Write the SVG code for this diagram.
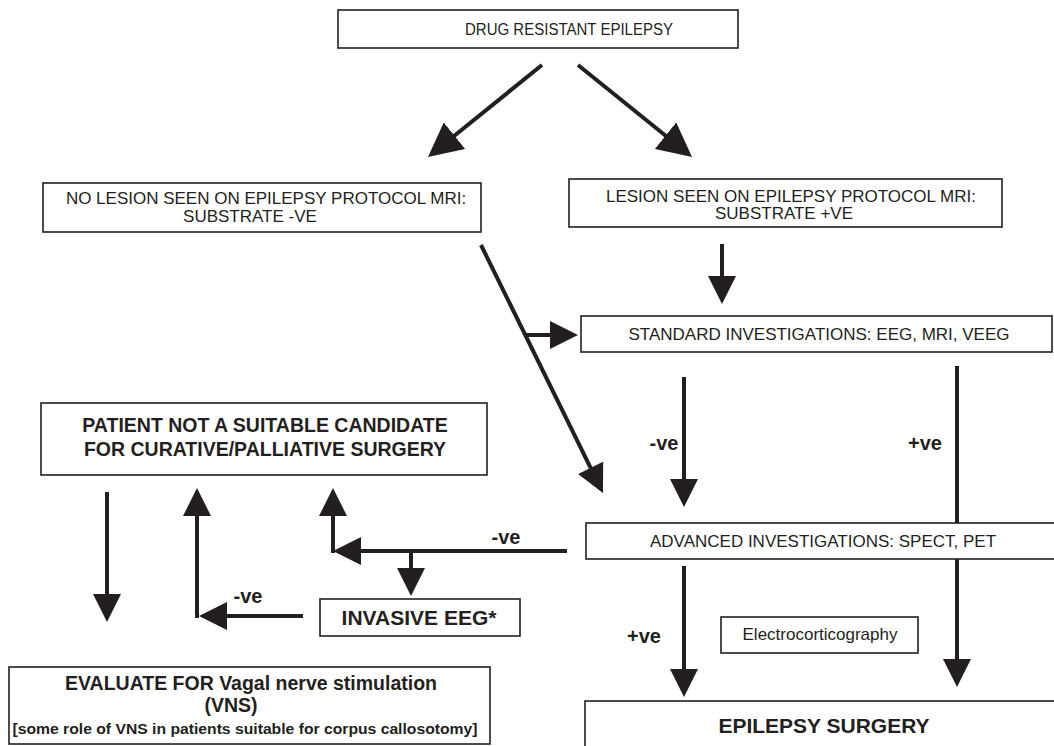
<svg xmlns="http://www.w3.org/2000/svg" width="1054" height="746" viewBox="0 0 1054 746">
<style>
.box{fill:#fff;stroke:#231f20;stroke-width:1.6}
.t{font-family:"Liberation Sans",Arial,sans-serif;fill:#231f20;text-anchor:middle}
.r{font-size:17px}
.b{font-weight:bold}
.lbl{font-size:20px;font-weight:bold}
.c{fill:none;stroke:#231f20;stroke-width:4}
</style>
<defs>
<marker id="ah" markerUnits="userSpaceOnUse" markerWidth="28" markerHeight="28" refX="24" refY="14" orient="auto">
<path d="M0,0 L28,14 L0,28 z" fill="#231f20"/>
</marker>
<marker id="ahb" markerUnits="userSpaceOnUse" markerWidth="34" markerHeight="34" refX="30" refY="17" orient="auto">
<path d="M0,0 L34,17 L0,34 z" fill="#231f20"/>
</marker>
</defs>
<rect width="1054" height="746" fill="#fff"/>
<g id="connectors">
<line class="c" x1="542" y1="65" x2="431.1" y2="154.5" marker-end="url(#ahb)"/>
<line class="c" x1="578" y1="65" x2="688.9" y2="154.5" marker-end="url(#ahb)"/>
<line class="c" x1="722" y1="244" x2="722" y2="300" marker-end="url(#ah)"/>
<line class="c" x1="481" y1="245" x2="601.2" y2="489.4" marker-end="url(#ah)"/>
<line class="c" x1="525" y1="335" x2="574" y2="335" marker-end="url(#ah)"/>
<line class="c" x1="684" y1="377" x2="684" y2="503" marker-end="url(#ah)"/>
<line class="c" x1="957" y1="366" x2="957" y2="683" marker-end="url(#ah)"/>
<line class="c" x1="684" y1="566" x2="684" y2="693" marker-end="url(#ah)"/>
<line class="c" x1="567" y1="551" x2="337" y2="551" marker-end="url(#ah)"/>
<line class="c" x1="333" y1="553" x2="333" y2="492" marker-end="url(#ah)"/>
<line class="c" x1="411" y1="551" x2="411" y2="592" marker-end="url(#ah)"/>
<line class="c" x1="303" y1="616" x2="203" y2="616" marker-end="url(#ah)"/>
<line class="c" x1="197" y1="618" x2="197" y2="492" marker-end="url(#ah)"/>
<line class="c" x1="107" y1="492" x2="107" y2="618" marker-end="url(#ah)"/>
<text class="t lbl" x="506" y="544">-ve</text>
<text class="t lbl" x="248" y="603">-ve</text>
<text class="t lbl" x="664" y="450">-ve</text>
<text class="t lbl" x="925" y="450">+ve</text>
<text class="t lbl" x="644" y="643">+ve</text>
</g>
<g id="drug-resistant">
<rect class="box" x="338" y="10" width="400" height="38"/>
<text class="t" x="569" y="35" font-size="16" textLength="208" lengthAdjust="spacingAndGlyphs">DRUG RESISTANT EPILEPSY</text>
</g>
<g id="no-lesion">
<rect class="box" x="43" y="183" width="438" height="49"/>
<text class="t r" x="266" y="204">NO LESION SEEN ON EPILEPSY PROTOCOL MRI:</text>
<text class="t r" x="250" y="222">SUBSTRATE -VE</text>
</g>
<g id="lesion">
<rect class="box" x="569" y="179" width="433" height="48"/>
<text class="t r" x="791" y="202">LESION SEEN ON EPILEPSY PROTOCOL MRI:</text>
<text class="t r" x="784" y="219">SUBSTRATE +VE</text>
</g>
<g id="standard">
<rect class="box" x="581" y="316" width="471" height="36"/>
<text class="t r" x="819" y="340">STANDARD INVESTIGATIONS: EEG, MRI, VEEG</text>
</g>
<g id="patient">
<rect class="box" x="41" y="403" width="446" height="72"/>
<text class="t b" x="265" y="432" font-size="19.5">PATIENT NOT A SUITABLE CANDIDATE</text>
<text class="t b" x="265" y="456" font-size="19.5">FOR CURATIVE/PALLIATIVE SURGERY</text>
</g>
<g id="advanced">
<rect class="box" x="586" y="523" width="472" height="36"/>
<text class="t r" x="823" y="547">ADVANCED INVESTIGATIONS: SPECT, PET</text>
</g>
<g id="invasive">
<rect class="box" x="320" y="599" width="200" height="37"/>
<text class="t b" x="419" y="625" font-size="21">INVASIVE EEG*</text>
</g>
<g id="ecog">
<rect class="box" x="721" y="617" width="197" height="36"/>
<text class="t r" x="820" y="640">Electrocorticography</text>
</g>
<g id="surgery">
<rect class="box" x="585" y="701" width="474" height="50"/>
<text class="t b" x="824" y="733" font-size="21">EPILEPSY SURGERY</text>
</g>
<g id="vns">
<rect class="box" x="9" y="667" width="481" height="77"/>
<text class="t b" x="251" y="690" font-size="19.5">EVALUATE FOR Vagal nerve stimulation</text>
<text class="t b" x="231" y="712" font-size="19.5">(VNS)</text>
<text class="t b" x="245" y="734" font-size="14.5" textLength="465" lengthAdjust="spacingAndGlyphs">[some role of VNS in patients suitable for corpus callosotomy]</text>
</g>
</svg>
